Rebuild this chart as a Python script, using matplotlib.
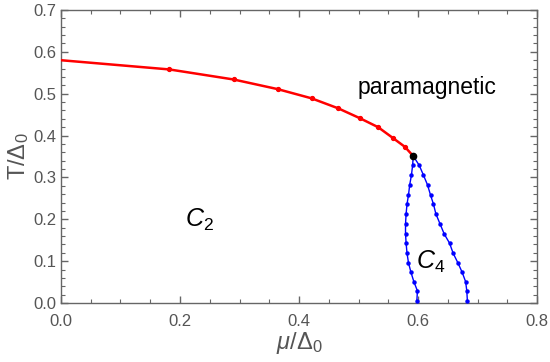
import matplotlib
matplotlib.use("Agg")
import matplotlib.pyplot as plt
from matplotlib.ticker import MultipleLocator

plt.rcParams['font.family'] = ['Liberation Sans', 'DejaVu Sans']
plt.rcParams['mathtext.fontset'] = 'custom'
plt.rcParams['mathtext.rm'] = 'Liberation Sans'
plt.rcParams['mathtext.it'] = 'Liberation Sans:italic'

# Red transition line (C2 -> paramagnetic)
red_mu = [0.0, 0.182, 0.290, 0.364, 0.421, 0.466, 0.503, 0.533, 0.558, 0.578, 0.592]
red_T = [0.580, 0.558, 0.534, 0.511, 0.489, 0.465, 0.441, 0.420, 0.394, 0.373, 0.351]

# Blue C4 boundary, left branch
blueL_mu = [0.592, 0.591, 0.589, 0.586, 0.584, 0.5815, 0.580, 0.579, 0.579, 0.580,
            0.5815, 0.584, 0.588, 0.593, 0.599, 0.598]
blueL_T = [0.351, 0.330, 0.306, 0.282, 0.258, 0.236, 0.213, 0.189, 0.165, 0.143,
           0.119, 0.096, 0.074, 0.051, 0.029, 0.004]
# Blue C4 boundary, right branch
blueR_mu = [0.592, 0.602, 0.609, 0.616, 0.621, 0.626, 0.630, 0.637, 0.644, 0.653,
            0.659, 0.667, 0.674, 0.680, 0.682, 0.683]
blueR_T = [0.351, 0.329, 0.306, 0.282, 0.258, 0.236, 0.213, 0.189, 0.165, 0.143,
           0.119, 0.096, 0.074, 0.051, 0.029, 0.004]

tricrit = (0.592, 0.351)

fig = plt.figure(figsize=(5.5, 3.62), dpi=100)
ax = fig.add_axes([0.1109, 0.163, 0.8655, 0.8094])

ax.plot(blueL_mu, blueL_T, color=(0, 0, 1), lw=1.0, marker='o', ms=2.2, zorder=3)
ax.plot(blueR_mu, blueR_T, color=(0, 0, 1), lw=1.0, marker='o', ms=2.2, zorder=3)
ax.plot(red_mu[1:], red_T[1:], color=(1, 0, 0), lw=0, marker='o', ms=2.8, zorder=4)
ax.plot(red_mu, red_T, color=(1, 0, 0), lw=1.8, zorder=4)
ax.plot([tricrit[0]], [tricrit[1]], 'o', color='black', ms=4.5, zorder=5)

ax.set_xlim(0, 0.8)
ax.set_ylim(0, 0.7)
ax.xaxis.set_major_locator(MultipleLocator(0.2))
ax.xaxis.set_minor_locator(MultipleLocator(0.05))
ax.yaxis.set_major_locator(MultipleLocator(0.1))
ax.yaxis.set_minor_locator(MultipleLocator(0.02))
ax.xaxis.set_major_formatter(matplotlib.ticker.FormatStrFormatter('%.1f'))
ax.yaxis.set_major_formatter(matplotlib.ticker.FormatStrFormatter('%.1f'))

fc = '#666666'
for s in ax.spines.values():
    s.set_color(fc)
    s.set_linewidth(1.0)
ax.tick_params(which='both', direction='in', top=True, right=True, color=fc,
               labelcolor='#555555', labelsize=12)
ax.tick_params(which='major', length=5, width=1.0, pad=3)
ax.tick_params(which='minor', length=3, width=0.8)
ax.tick_params(axis='x', which='major', pad=8)

ax.set_xlabel(r'$\mu/\Delta_0$', fontsize=17, color='#555555', labelpad=1)
ax.set_ylabel(r'T/$\Delta_0$', fontsize=17, color='#555555', labelpad=2)

ax.text(0.615, 0.514, 'paramagnetic', fontsize=16.5, color='black', ha='center', va='center')
ax.text(0.232, 0.198, r'$C_2$', fontsize=18, color='black', ha='center', va='center')
ax.text(0.622, 0.098, r'$C_4$', fontsize=18, color='black', ha='center', va='center')

fig.savefig('out.png', dpi=100)
